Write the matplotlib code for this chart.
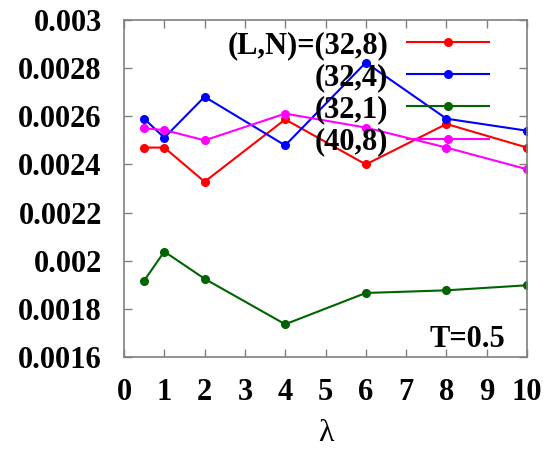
import matplotlib
matplotlib.use("Agg")
import matplotlib.pyplot as plt

# lambda values and energies
lam = [0.5, 1, 2, 4, 6, 8, 10]
e_32_8 = [0.00247, 0.00247, 0.002328, 0.002587, 0.00240, 0.002568, 0.00247]
e_32_4 = [0.00259, 0.002511, 0.002681, 0.002479, 0.002823, 0.00259, 0.00254]
e_32_1 = [0.001917, 0.002038, 0.001925, 0.001736, 0.001866, 0.001877, 0.001898]
e_40_8 = [0.00255, 0.002543, 0.0025, 0.002611, 0.002553, 0.00247, 0.00238]

labels = ["(L,N)=(32,8)", "(32,4)", "(32,1)", "(40,8)"]
colors = ["#ff0000", "#0000ff", "#006400", "#ff00ff"]

xticks = list(range(0, 11))
yticks = [0.0016, 0.0018, 0.002, 0.0022, 0.0024, 0.0026, 0.0028, 0.003]
ytick_labels = ["0.0016", "0.0018", "0.002", "0.0022", "0.0024", "0.0026", "0.0028", "0.003"]

plt.rcParams['font.family'] = ['Liberation Serif', 'DejaVu Serif']
plt.rcParams['font.weight'] = 'bold'

fig = plt.figure(figsize=(5.45, 4.51), dpi=100)
ax = fig.add_axes([0.2275, 0.2084, 0.7395, 0.7473])

for ys, lab, c in zip([e_32_8, e_32_4, e_32_1, e_40_8], labels, colors):
    ax.plot(lam, ys, color=c, lw=1.5, marker='o', ms=5.5, label=lab)

ax.set_xlim(0, 10)
ax.set_ylim(0.0016, 0.003)
ax.set_xticks(xticks)
ax.set_xticklabels([str(t) for t in xticks])
ax.set_yticks(yticks)
ax.set_yticklabels(ytick_labels)
ax.tick_params(direction='in', top=True, right=True, length=6, width=1,
               color='#808080', labelsize=22)
ax.tick_params(axis='x', pad=15)
ax.tick_params(axis='y', pad=16)
for s in ax.spines.values():
    s.set_color('#808080')
    s.set_linewidth(1.2)

ax.set_xlabel("λ", fontsize=23, fontweight='normal', labelpad=9)

ax.text(0.945, 0.03, "T=0.5", transform=ax.transAxes, ha='right', va='baseline',
        fontsize=22, fontweight='bold')

ax.legend(loc='upper right', bbox_to_anchor=(0.94, 1.008), frameon=False,
          markerfirst=False, numpoints=1, fontsize=22, handlelength=2.68,
          handletextpad=0.62, labelspacing=0.1, borderaxespad=0.05)

fig.savefig("out.png", dpi=100)
